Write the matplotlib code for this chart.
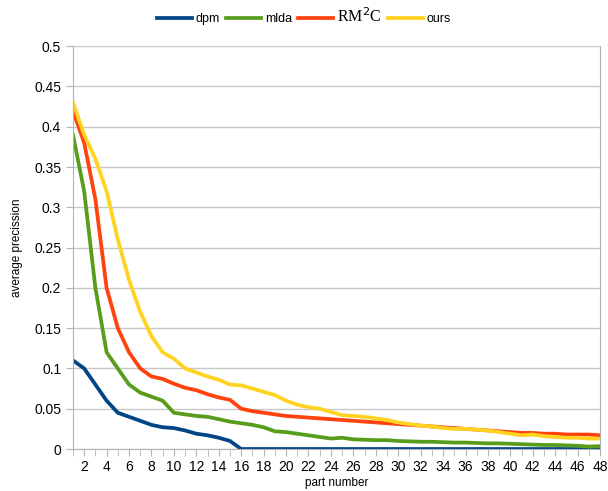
import numpy as np
import matplotlib
matplotlib.use("Agg")
import matplotlib.pyplot as plt

plt.rcParams['font.family'] = ['Liberation Sans', 'DejaVu Sans']

parts = list(range(1, 49))

dpm = [0.11, 0.10, 0.08, 0.06, 0.045, 0.04, 0.035, 0.03, 0.027, 0.026,
       0.023, 0.019, 0.017, 0.014, 0.01, 0.0] + [0.0] * 32

mlda = [0.39, 0.32, 0.20, 0.12, 0.10, 0.08, 0.07, 0.065, 0.06, 0.045,
        0.043, 0.041, 0.040, 0.037, 0.034, 0.032, 0.030, 0.027, 0.022, 0.021,
        0.019, 0.017, 0.015, 0.013, 0.014, 0.012, 0.0115, 0.011, 0.011, 0.010,
        0.0095, 0.009, 0.009, 0.0085, 0.008, 0.008, 0.0075, 0.007, 0.007, 0.0065,
        0.006, 0.0055, 0.005, 0.005, 0.0045, 0.004, 0.003, 0.0035]

rm2c = [0.42, 0.38, 0.31, 0.20, 0.15, 0.12, 0.10, 0.09, 0.087, 0.081,
        0.076, 0.073, 0.068, 0.064, 0.061, 0.05, 0.047, 0.045, 0.043, 0.041,
        0.040, 0.039, 0.038, 0.037, 0.036, 0.035, 0.034, 0.033, 0.032, 0.031,
        0.030, 0.029, 0.028, 0.027, 0.026, 0.025, 0.024, 0.023, 0.022, 0.021,
        0.020, 0.020, 0.019, 0.019, 0.018, 0.018, 0.018, 0.017]

ours = [0.43, 0.39, 0.36, 0.32, 0.26, 0.21, 0.17, 0.14, 0.12, 0.112,
        0.10, 0.095, 0.09, 0.086, 0.08, 0.079, 0.075, 0.071, 0.067, 0.06,
        0.055, 0.052, 0.05, 0.046, 0.042, 0.041, 0.040, 0.038, 0.036, 0.033,
        0.031, 0.029, 0.028, 0.026, 0.025, 0.025, 0.024, 0.023, 0.021, 0.019,
        0.017, 0.018, 0.016, 0.015, 0.014, 0.014, 0.013, 0.013]

fig = plt.figure(figsize=(6.08, 4.91), dpi=100)
ax = fig.add_axes([0.12, 0.0855, 0.867, 0.8205])

lw = 2.7
l1, = ax.plot(parts, dpm, color='#004586', lw=lw, label='dpm')
l2, = ax.plot(parts, mlda, color='#579d1c', lw=lw, label='mlda')
l3, = ax.plot(parts, rm2c, color='#ff420e', lw=lw, label='RM$^2$C')
l4, = ax.plot(parts, ours, color='#ffd320', lw=lw, label='ours')

ax.set_xlim(1, 48)
ax.set_ylim(0, 0.5)
ax.set_yticks(np.arange(0, 0.501, 0.05))
ax.set_yticklabels(['0', '0.05', '0.1', '0.15', '0.2', '0.25', '0.3', '0.35', '0.4', '0.45', '0.5'])
ax.set_xticks(range(2, 49, 2))
ax.set_xticks(range(1, 49), minor=True)
ax.grid(axis='y', color='#c8c8c8', lw=1)
ax.set_axisbelow(True)
ax.spines['top'].set_visible(False)
for s in ['left', 'bottom', 'right']:
    ax.spines[s].set_color('#b3b3b3')
ax.tick_params(axis='both', colors='#b3b3b3', labelcolor='black', labelsize=10, length=5)
ax.tick_params(axis='x', which='minor', colors='#b3b3b3', length=5)
ax.tick_params(axis='x', pad=3)

ax.set_xlabel('part number', fontsize=8.5, labelpad=2)
ax.set_ylabel('average precission', fontsize=8.5, labelpad=8)

leg = fig.legend(handles=[l1, l2, l3, l4], loc='upper center', bbox_to_anchor=(0.5, 1.008),
                 ncol=4, frameon=False, fontsize=9, handlelength=2.8, handletextpad=0.3,
                 columnspacing=0.5)
for t in leg.get_texts():
    if 'RM' in t.get_text():
        t.set_family(['Liberation Serif', 'DejaVu Serif'])
        t.set_fontsize(11.5)

fig.savefig('out.png', dpi=100)
